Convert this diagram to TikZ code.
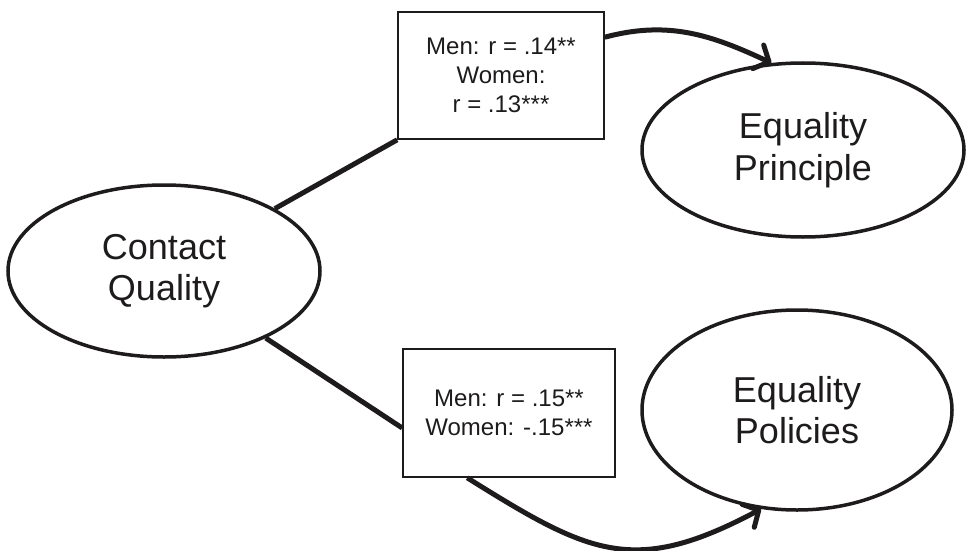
\documentclass[tikz,border=0pt]{standalone}
\usepackage{fontspec}
\setmainfont{Liberation Sans}
\usetikzlibrary{shapes.geometric,arrows.meta}
\definecolor{ink}{HTML}{1E1B1C}
\begin{document}
\begin{tikzpicture}[x=1pt,y=-1pt,
  latent/.style={ellipse,draw=ink,line width=3.5pt,inner sep=0pt,text=ink,
    font=\fontsize{36}{41.5}\selectfont,align=center},
  stat/.style={rectangle,draw=ink,line width=1.6pt,inner sep=0pt,text=ink,
    font=\fontsize{24}{28.8}\selectfont,align=center},
  conn/.style={draw=ink,line width=5pt},
  arr/.style={conn,arrows={-Straight Barb[length=12pt,width=26pt,line width=5pt,round]}}]
\useasboundingbox (0,0) rectangle (966,551);
\node[latent,minimum width=312pt,minimum height=172pt] (cq) at (164,271) {Contact\\Quality};
\node[latent,minimum width=322pt,minimum height=174pt] (ep) at (803,150) {Equality\\Principle};
\node[latent,minimum width=310pt,minimum height=200pt] (pol) at (797,410) {Equality\\Policies};
\node[stat,minimum width=206pt,minimum height=127pt] (b1) at (501,75.5) {Men: r = .14**\\Women:\\r = .13***};
\node[stat,minimum width=212pt,minimum height=128pt] (b2) at (509,413) {Men: r = .15**\\Women: -.15***};
\coordinate (b2in) at ([yshift=-15pt]b2.west);
\coordinate (b1out) at ([yshift=-26pt]b1.north east);
\coordinate (b2out) at ([xshift=65pt]b2.south west);
\draw[conn] (cq) -- (b1.south west);
\draw[conn] (cq) -- (b2in);
\draw[arr] (b1out) to[out=15,in=155] (ep.110);
\draw[arr] (b2out) to[out=-32,in=-152,looseness=1.25] (pol.250);
\end{tikzpicture}
\end{document}
